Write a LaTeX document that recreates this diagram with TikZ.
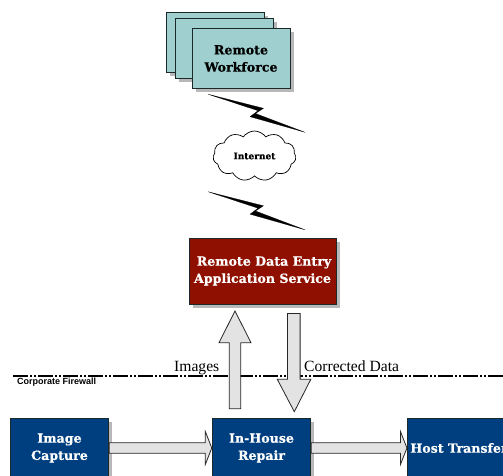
\documentclass[tikz,border=0pt]{standalone}
\usepackage{fontspec}
\setmainfont[BoldFeatures={FakeBold=0.6}]{DejaVu Serif}
\newfontfamily\lblfont{Liberation Serif}
\newfontfamily\sansbold{Liberation Sans}
\usetikzlibrary{shadows,shapes.symbols,calc}
\definecolor{cardteal}{HTML}{9FCFCF}
\definecolor{bluebox}{HTML}{003F7F}
\definecolor{redbox}{HTML}{8F1000}
\definecolor{arrowfill}{HTML}{E3E3E3}
\definecolor{edgedark}{HTML}{1A2A2A}
\tikzset{
  x=1pt,y=-1pt,
  boxbase/.style={draw=edgedark,line width=0.9pt,inner sep=0pt,align=center,
    font=\bfseries\fontsize{12.6}{17.2}\selectfont,
    drop shadow={shadow xshift=3.5pt,shadow yshift=-3.5pt,fill=black!28,opacity=1}},
  card/.style={boxbase,fill=cardteal,text=black,minimum width=98pt,minimum height=59.5pt},
  bluenode/.style={boxbase,fill=bluebox,text=white,minimum width=98.5pt,minimum height=60pt},
  rednode/.style={boxbase,fill=redbox,text=white,minimum width=147pt,minimum height=66pt},
  bigarrow/.style={draw=black!85,line width=0.8pt,fill=arrowfill,line join=miter},
  bolt/.style={fill=black,draw=black,line width=0.2pt,line join=round},
  caption/.style={inner sep=0pt,font=\lblfont\fontsize{15.6}{17}\selectfont},
}
\begin{document}
\begin{tikzpicture}
\useasboundingbox (0,0) rectangle (503,476);
\clip (0,0) rectangle (503,476);
\fill[white] (0,0) rectangle (503,476);

% firewall
\coordinate (fwL) at (13,375.5);
\coordinate (fwR) at (503,375.5);
\draw[line width=2pt,dash pattern=on 15pt off 2pt on 2pt off 2pt on 2pt off 2pt] (fwL) -- (fwR);
\node[anchor=west,inner sep=0pt,font=\sansbold\bfseries\fontsize{9}{10}\selectfont] (fwlabel) at (17,382) {Corporate Firewall};

% remote workforce
\node[card] (card1) at (215.5,42.5) {};
\node[card] (card2) at (224.5,48.5) {};
\node[card] (workforce) at (241,58.5) {Remote\\Workforce};

% bolts
\coordinate (bolt1) at (208.3,94.3);
\coordinate (bolt2) at (208.3,191.8);
\foreach \b in {bolt1,bolt2}{
  \fill[bolt] (\b) -- ++(55.2,14) -- ++(-8,5.2) -- ++(49.5,18.8)
     -- ++(-55,-15.6) -- ++(8,-6) -- cycle;
}

% cloud
\node[cloud,cloud puffs=11,cloud puff arc=110,aspect=1.65,draw=black,line width=0.7pt,fill=white,
  minimum width=83pt,minimum height=50pt,inner sep=0pt,
  font=\bfseries\fontsize{9}{10}\selectfont] (internet) at (254.5,156) {Internet};

% service
\node[rednode] (service) at (262.5,271) {\raisebox{-1.5pt}{\hspace{3pt}Remote Data Entry}\\\raisebox{-1.5pt}{Application Service}};

% bottom boxes
\node[bluenode] (capture) at (59.5,448) {\raisebox{-1.5pt}{Image}\\\raisebox{-1.5pt}{Capture}};
\node[bluenode] (repair) at (261.5,448) {\raisebox{-1.5pt}{In-House}\\\raisebox{-1.5pt}{Repair}};
\node[bluenode] (host) at (457.5,448) {\hspace{3pt}Host Transfer};

% vertical arrows
\coordinate (upS) at (235,408.7);
\coordinate (upT) at (235,311);
\coordinate (dnS) at (293.8,313.5);
\coordinate (dnT) at (294.3,411.7);
\draw[bigarrow] (upS) ++(-5.7,0) |- ($(upT)+(-16,31.7)$) -- (upT) -- ($(upT)+(16,31.7)$) -| ($(upS)+(5.7,0)$) -- cycle;
\draw[bigarrow] (dnS) ++(-6.3,0) |- ($(dnT)+(-17,-32.4)$) -- (dnT) -- ($(dnT)+(16.5,-32.4)$) -| ($(dnS)+(6.3,0)$) -- cycle;

% horizontal arrows
\coordinate (a1S) at (capture.east);
\coordinate (a1T) at (repair.west);
\coordinate (a2S) at (repair.east);
\coordinate (a2T) at (host.west);
\draw[bigarrow] ($(a1S)+(0,-5.3)$) -- ($(a1T)+(-6.5,-5.3)$) -- ($(a1T)+(-6.5,-16.5)$) -- (a1T) -- ($(a1T)+(-6.5,16.5)$) -- ($(a1T)+(-6.5,5.3)$) -- ($(a1S)+(0,5.3)$) -- cycle;
\draw[bigarrow] ($(a2S)+(0,-5.3)$) -- ($(a2T)+(-6.5,-5.3)$) -- ($(a2T)+(-6.5,-16.5)$) -- (a2T) -- ($(a2T)+(-6.5,16.5)$) -- ($(a2T)+(-6.5,5.3)$) -- ($(a2S)+(0,5.3)$) -- cycle;

% labels
\node[caption,anchor=base west] (imglabel) at (174,371.5) {Images};
\node[caption,anchor=base west] (corlabel) at (304,371.5) {Corrected Data};
\end{tikzpicture}
\end{document}
